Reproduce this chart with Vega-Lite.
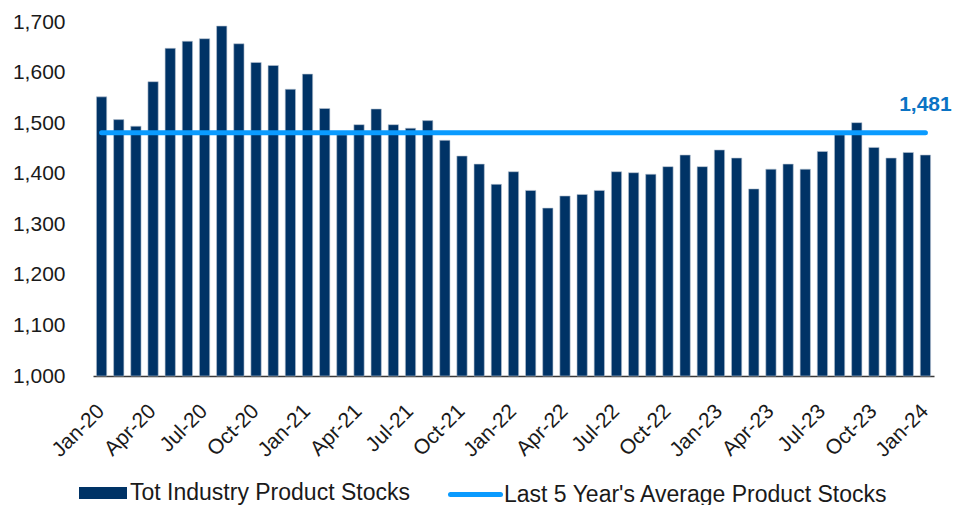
{
  "$schema": "https://vega.github.io/schema/vega-lite/v6.json",
  "autosize": "none",
  "width": 841,
  "height": 354,
  "padding": {"left": 93, "top": 22, "right": 23, "bottom": 129},
  "background": "white",
  "config": {
    "view": {"stroke": null},
    "font": "Liberation Sans"
  },
  "datasets": {
    "stocks": [
      {"month": "Jan-20", "value": 1552, "series": "Tot Industry Product Stocks"},
      {"month": "Feb-20", "value": 1507, "series": "Tot Industry Product Stocks"},
      {"month": "Mar-20", "value": 1494, "series": "Tot Industry Product Stocks"},
      {"month": "Apr-20", "value": 1582, "series": "Tot Industry Product Stocks"},
      {"month": "May-20", "value": 1648, "series": "Tot Industry Product Stocks"},
      {"month": "Jun-20", "value": 1662, "series": "Tot Industry Product Stocks"},
      {"month": "Jul-20", "value": 1667, "series": "Tot Industry Product Stocks"},
      {"month": "Aug-20", "value": 1692, "series": "Tot Industry Product Stocks"},
      {"month": "Sep-20", "value": 1657, "series": "Tot Industry Product Stocks"},
      {"month": "Oct-20", "value": 1620, "series": "Tot Industry Product Stocks"},
      {"month": "Nov-20", "value": 1614, "series": "Tot Industry Product Stocks"},
      {"month": "Dec-20", "value": 1567, "series": "Tot Industry Product Stocks"},
      {"month": "Jan-21", "value": 1597, "series": "Tot Industry Product Stocks"},
      {"month": "Feb-21", "value": 1529, "series": "Tot Industry Product Stocks"},
      {"month": "Mar-21", "value": 1477, "series": "Tot Industry Product Stocks"},
      {"month": "Apr-21", "value": 1497, "series": "Tot Industry Product Stocks"},
      {"month": "May-21", "value": 1528, "series": "Tot Industry Product Stocks"},
      {"month": "Jun-21", "value": 1497, "series": "Tot Industry Product Stocks"},
      {"month": "Jul-21", "value": 1490, "series": "Tot Industry Product Stocks"},
      {"month": "Aug-21", "value": 1505, "series": "Tot Industry Product Stocks"},
      {"month": "Sep-21", "value": 1466, "series": "Tot Industry Product Stocks"},
      {"month": "Oct-21", "value": 1435, "series": "Tot Industry Product Stocks"},
      {"month": "Nov-21", "value": 1419, "series": "Tot Industry Product Stocks"},
      {"month": "Dec-21", "value": 1379, "series": "Tot Industry Product Stocks"},
      {"month": "Jan-22", "value": 1404, "series": "Tot Industry Product Stocks"},
      {"month": "Feb-22", "value": 1367, "series": "Tot Industry Product Stocks"},
      {"month": "Mar-22", "value": 1332, "series": "Tot Industry Product Stocks"},
      {"month": "Apr-22", "value": 1356, "series": "Tot Industry Product Stocks"},
      {"month": "May-22", "value": 1359, "series": "Tot Industry Product Stocks"},
      {"month": "Jun-22", "value": 1367, "series": "Tot Industry Product Stocks"},
      {"month": "Jul-22", "value": 1404, "series": "Tot Industry Product Stocks"},
      {"month": "Aug-22", "value": 1402, "series": "Tot Industry Product Stocks"},
      {"month": "Sep-22", "value": 1399, "series": "Tot Industry Product Stocks"},
      {"month": "Oct-22", "value": 1414, "series": "Tot Industry Product Stocks"},
      {"month": "Nov-22", "value": 1437, "series": "Tot Industry Product Stocks"},
      {"month": "Dec-22", "value": 1414, "series": "Tot Industry Product Stocks"},
      {"month": "Jan-23", "value": 1447, "series": "Tot Industry Product Stocks"},
      {"month": "Feb-23", "value": 1431, "series": "Tot Industry Product Stocks"},
      {"month": "Mar-23", "value": 1370, "series": "Tot Industry Product Stocks"},
      {"month": "Apr-23", "value": 1409, "series": "Tot Industry Product Stocks"},
      {"month": "May-23", "value": 1419, "series": "Tot Industry Product Stocks"},
      {"month": "Jun-23", "value": 1409, "series": "Tot Industry Product Stocks"},
      {"month": "Jul-23", "value": 1444, "series": "Tot Industry Product Stocks"},
      {"month": "Aug-23", "value": 1477, "series": "Tot Industry Product Stocks"},
      {"month": "Sep-23", "value": 1501, "series": "Tot Industry Product Stocks"},
      {"month": "Oct-23", "value": 1452, "series": "Tot Industry Product Stocks"},
      {"month": "Nov-23", "value": 1431, "series": "Tot Industry Product Stocks"},
      {"month": "Dec-23", "value": 1442, "series": "Tot Industry Product Stocks"},
      {"month": "Jan-24", "value": 1437, "series": "Tot Industry Product Stocks"}
    ],
    "average": [
      {"start": "Jan-20", "end": "Jan-24", "avg": 1481, "series": "Last 5 Year's Average Product Stocks"}
    ]
  },
  "encoding": {
    "x": {
      "field": "month",
      "type": "nominal",
      "title": null,
      "scale": {
        "domain": ["Jan-20","Feb-20","Mar-20","Apr-20","May-20","Jun-20","Jul-20","Aug-20","Sep-20","Oct-20","Nov-20","Dec-20","Jan-21","Feb-21","Mar-21","Apr-21","May-21","Jun-21","Jul-21","Aug-21","Sep-21","Oct-21","Nov-21","Dec-21","Jan-22","Feb-22","Mar-22","Apr-22","May-22","Jun-22","Jul-22","Aug-22","Sep-22","Oct-22","Nov-22","Dec-22","Jan-23","Feb-23","Mar-23","Apr-23","May-23","Jun-23","Jul-23","Aug-23","Sep-23","Oct-23","Nov-23","Dec-23","Jan-24"],
        "paddingInner": 0.4,
        "paddingOuter": 0.2
      },
      "axis": {
        "values": ["Jan-20","Apr-20","Jul-20","Oct-20","Jan-21","Apr-21","Jul-21","Oct-21","Jan-22","Apr-22","Jul-22","Oct-22","Jan-23","Apr-23","Jul-23","Oct-23","Jan-24"],
        "labelAngle": -45,
        "labelAlign": "right",
        "labelBaseline": "top",
        "labelPadding": 24,
        "labelOffset": -8,
        "labelFontSize": 21,
        "labelColor": "#1a1a1a",
        "labelFont": "Liberation Sans",
        "ticks": false,
        "tickSize": 0,
        "domainColor": "#3a3a3a",
        "domainWidth": 1.5,
        "grid": false,
        "labelOverlap": false
      }
    }
  },
  "layer": [
    {
      "data": {"name": "stocks"},
      "mark": {"type": "bar", "stroke": "#b9c4d2", "strokeWidth": 0.6},
      "encoding": {
        "y": {
          "field": "value",
          "type": "quantitative",
          "title": null,
          "scale": {"domain": [1000, 1700], "zero": false, "nice": false},
          "axis": {
            "values": [1000, 1100, 1200, 1300, 1400, 1500, 1600, 1700],
            "labelExpr": "format(datum.value, ',')",
            "grid": false,
            "domain": false,
            "ticks": false,
            "tickSize": 0,
            "labelPadding": 28,
            "labelFontSize": 21,
            "labelColor": "#1a1a1a",
            "labelFont": "Liberation Sans"
          }
        },
        "y2": {"datum": 1000},
        "fill": {
          "field": "series",
          "type": "nominal",
          "scale": {"domain": ["Tot Industry Product Stocks"], "range": ["#003366"]},
          "legend": {
            "title": null,
            "orient": "none",
            "direction": "horizontal",
            "legendX": -15,
            "legendY": 446,
            "padding": 0,
            "labelFontSize": 23,
            "labelFont": "Liberation Sans",
            "labelColor": "#1a1a1a",
            "labelOffset": 2,
            "labelLimit": 500,
            "symbolSize": 2500,
            "symbolType": "M-0.96,-0.24H0.96V0.24H-0.96Z",
            "symbolStrokeWidth": 0
          }
        }
      }
    },
    {
      "data": {"name": "average"},
      "mark": {"type": "rule", "strokeWidth": 5, "strokeCap": "round"},
      "encoding": {
        "x": {"field": "start", "type": "nominal"},
        "x2": {"field": "end"},
        "y": {"field": "avg", "type": "quantitative"},
        "stroke": {
          "field": "series",
          "type": "nominal",
          "scale": {"domain": ["Last 5 Year's Average Product Stocks"], "range": ["#0A9BFF"]},
          "legend": {
            "title": null,
            "orient": "none",
            "direction": "horizontal",
            "legendX": 355,
            "legendY": 445,
            "padding": 0,
            "labelFontSize": 23,
            "labelFont": "Liberation Sans",
            "labelColor": "#1a1a1a",
            "labelOffset": 1,
            "labelLimit": 500,
            "symbolSize": 2500,
            "symbolType": "M-1,0H1",
            "symbolStrokeWidth": 5,
            "encode": {
              "symbols": {"update": {"strokeCap": {"value": "round"}}}
            }
          }
        }
      }
    },
    {
      "data": {"name": "average"},
      "mark": {"type": "text", "fontSize": 21, "fontWeight": "bold", "color": "#0A73C4", "align": "center", "baseline": "alphabetic", "dy": -22, "font": "Liberation Sans"},
      "encoding": {
        "x": {"field": "end", "type": "nominal"},
        "y": {"field": "avg", "type": "quantitative"},
        "text": {"field": "avg", "type": "quantitative", "format": ","}
      }
    }
  ]
}
